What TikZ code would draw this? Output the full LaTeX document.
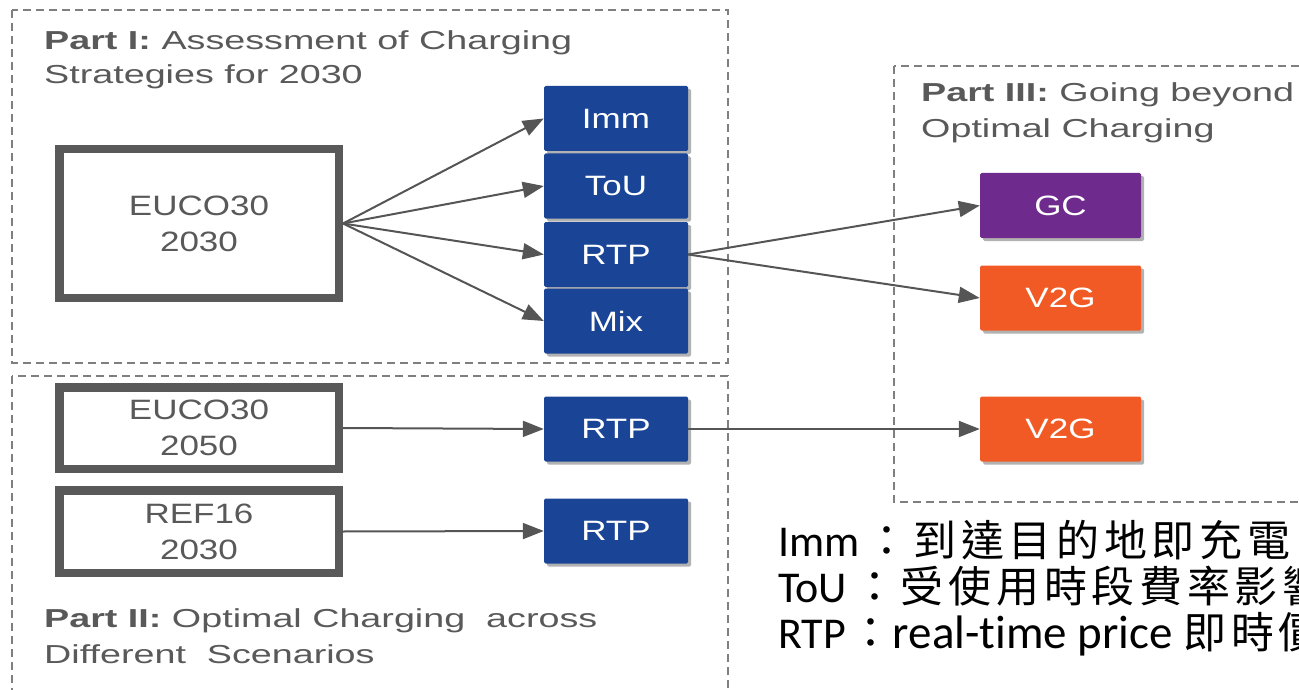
\documentclass[tikz,border=0pt]{standalone}
\usepackage{fontspec}
\usetikzlibrary{arrows.meta,shadows}
\newfontfamily\diag[FakeStretch=1.45]{Liberation Sans}
\newfontfamily\boxfont[FakeStretch=1.25]{Liberation Sans}
\newfontfamily\calfont[Ligatures=NoCommon]{Carlito}
\newfontfamily\cjkfont[LetterSpace=11]{Noto Sans CJK TC}
\definecolor{textgray}{HTML}{595959}
\definecolor{boxgray}{HTML}{595959}
\definecolor{dashgray}{HTML}{7F7F7F}
\definecolor{arrowgray}{HTML}{555555}
\definecolor{stratblue}{HTML}{1A4597}
\definecolor{gcpurple}{HTML}{6E2A8C}
\definecolor{vtgorange}{HTML}{F15A24}
\tikzset{
  partbox/.style={draw=dashgray, dash pattern=on 8pt off 5pt, line width=1.3pt},
  parttitle/.style={anchor=base west, inner sep=0pt, text=textgray, font=\diag\fontsize{26}{30}\selectfont},
  scen/.style={draw=boxgray, line width=8.5pt, fill=white, text=textgray, align=center,
    minimum width=279.5pt, inner sep=0pt, font=\boxfont\fontsize{28}{36}\selectfont},
  colbox/.style={text=white, rounded corners=1.5pt, minimum height=65pt, inner sep=0pt,
    font=\boxfont\fontsize{28}{30}\selectfont,
    drop shadow={shadow xshift=3pt, shadow yshift=-3pt, opacity=0.3, fill=black}},
  strat/.style={colbox, fill=stratblue, minimum width=144pt},
  gcbox/.style={colbox, fill=gcpurple, minimum width=161pt},
  vtgbox/.style={colbox, fill=vtgorange, minimum width=161pt},
  arr/.style={draw=arrowgray, line width=2pt, -{Triangle[length=21pt,width=16pt]}},
  legend/.style={anchor=base west, inner sep=0pt, text=black}
}
\newcommand{\latinpart}{\calfont\fontsize{44}{46}\selectfont}
\newcommand{\cjkpart}{\cjkfont\fontsize{43}{46}\selectfont}
\begin{document}
\begin{tikzpicture}[x=1pt,y=-1pt]
\useasboundingbox (0,0) rectangle (1299,690);
% part frames
\draw[partbox] (12,10) rectangle (728,363);
\draw[partbox] (12,376) rectangle (728,720);
\draw[partbox] (894,66) rectangle (1330,502);
% titles
\node[parttitle] (t1a) at (44,50) {\textbf{Part I:} Assessment of Charging};
\node[parttitle] (t1b) at (44,84) {Strategies for 2030};
\node[parttitle] (t2a) at (44,627) {\textbf{Part II:} Optimal Charging\ \ across};
\node[parttitle] (t2b) at (44,663) {Different\ \ Scenarios};
\node[parttitle] (t3a) at (921,102) {\textbf{Part III:} Going\ beyond};
\node[parttitle] (t3b) at (921,138) {Optimal\ Charging};
% scenario boxes
\node[scen, minimum height=149pt] (e30) at (199,223.5) {EUCO30\\2030};
\node[scen, minimum height=81.5pt] (e50) at (199,428) {EUCO30\\2050};
\node[scen, minimum height=82.5pt] (r16) at (199,531.5) {REF16\\2030};
% strategy boxes
\node[strat] (imm) at (616,118.5) {Imm};
\node[strat] (tou) at (616,186) {ToU};
\node[strat] (rtp) at (616,254.5) {RTP};
\node[strat] (mix) at (616,321) {Mix};
\node[strat] (rtpb) at (616,429) {RTP};
\node[strat] (rtpc) at (616,531) {RTP};
% part III boxes
\node[gcbox] (gc) at (1060.5,205.5) {GC};
\node[vtgbox] (vtg) at (1060.5,298) {V2G};
\node[vtgbox] (vtgb) at (1060.5,429) {V2G};
% arrows
\draw[arr] (e30.east) -- (imm.west);
\draw[arr] (e30.east) -- (tou.west);
\draw[arr] (e30.east) -- (rtp.west);
\draw[arr] (e30.east) -- (mix.west);
\draw[arr] (rtp.east) -- (gc.west);
\draw[arr] (rtp.east) -- (vtg.west);
\draw[arr] (e50.east) -- (rtpb.west);
\draw[arr] (rtpb.east) -- (vtgb.west);
\draw[arr] (r16.east) -- (rtpc.west);
% legend
\node[legend] (l1) at (778,556) {\latinpart Imm\hspace{6pt}\cjkpart ：到達目的地即充電};
\node[legend] (l2) at (778,602) {\latinpart ToU\hspace{6pt}\cjkpart ：受使用時段費率影響};
\node[legend] (l3) at (778,648) {\latinpart RTP\hspace{4pt}\cjkpart ：\latinpart\fontsize{47}{46}\selectfont real-time price \cjkpart 即時價};
\end{tikzpicture}
\end{document}
